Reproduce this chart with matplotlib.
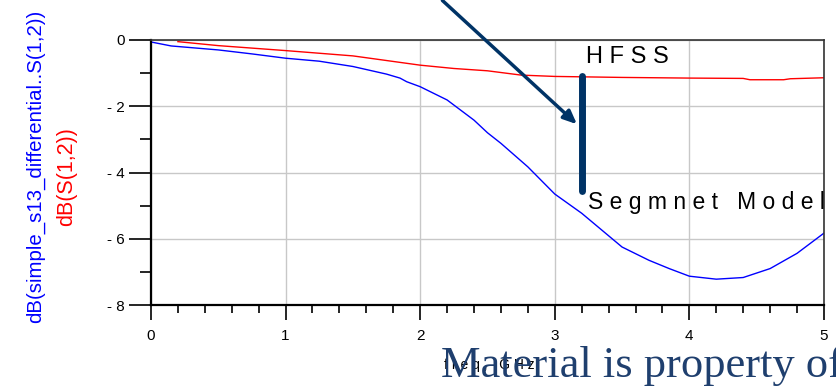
import matplotlib
matplotlib.use('Agg')
import matplotlib.pyplot as plt
from matplotlib.ticker import MultipleLocator

# Segment model (blue) and HFSS (red) insertion loss
freq_model = [0, 0.15, 0.5, 0.75, 1.0, 1.25, 1.5, 1.75, 1.85, 1.9, 2.0, 2.2, 2.4, 2.5,
              2.6, 2.8, 3.0, 3.2, 3.5, 3.7, 3.85, 4.0, 4.2, 4.4, 4.6, 4.8, 5.0]
db_model = [-0.06, -0.18, -0.3, -0.42, -0.55, -0.64, -0.8, -1.03, -1.15, -1.26, -1.41,
            -1.81, -2.42, -2.8, -3.12, -3.83, -4.65, -5.23, -6.25, -6.65, -6.9, -7.13,
            -7.22, -7.17, -6.9, -6.44, -5.83]

freq_hfss = [0.2, 0.5, 1.0, 1.5, 2.0, 2.25, 2.5, 2.75, 3.0, 3.5, 4.0, 4.4, 4.45,
             4.7, 4.75, 5.0]
db_hfss = [-0.05, -0.17, -0.32, -0.48, -0.76, -0.86, -0.93, -1.06, -1.1, -1.13, -1.15,
           -1.16, -1.2, -1.2, -1.17, -1.14]

x_ticks = [0, 1, 2, 3, 4, 5]
y_ticks = [0, -2, -4, -6, -8]
y_labels = ['0', '- 2', '- 4', '- 6', '- 8']

plt.rcParams['font.family'] = ['Liberation Sans', 'DejaVu Sans']

fig = plt.figure(figsize=(8.36, 3.89), dpi=100)
ax = fig.add_axes([0.1806, 0.2159, 0.8050, 0.6813])

ax.plot(freq_model, db_model, color='#0000ff', linewidth=1.0)
ax.plot(freq_hfss, db_hfss, color='#ff0000', linewidth=1.0)

ax.set_xlim(0, 5)
ax.set_ylim(-8, 0)
ax.set_xticks(x_ticks)
ax.set_yticks(y_ticks)
ax.set_yticklabels(y_labels)
ax.xaxis.set_minor_locator(MultipleLocator(0.2))
ax.yaxis.set_minor_locator(MultipleLocator(1))
ax.grid(True, which='major', color='#c8c8c8', linewidth=1.0)
ax.tick_params(axis='y', which='major', length=16, width=1.2, pad=3, labelsize=11)
ax.tick_params(axis='y', which='minor', length=8, width=1.2)
ax.tick_params(axis='x', which='major', length=11, width=1.2, pad=6, labelsize=11)
ax.tick_params(axis='x', which='minor', length=6, width=1.2)
for side in ['left', 'bottom']:
    ax.spines[side].set_linewidth(1.6)
for side in ['top', 'right']:
    ax.spines[side].set_linewidth(1.2)
    ax.spines[side].set_color('#333333')

# two-colour y label
fig.text(0.043, 0.573, 'dB(simple_s13_differential..S(1,2))', color='#0000ff',
         rotation=90, ha='center', va='center', fontsize=14.7)
fig.text(0.080, 0.547, 'dB(S(1,2))', color='#ff0000',
         rotation=90, ha='center', va='center', fontsize=15.5)
fig.text(0.585, 0.062, 'f r e q ,   G H z', ha='center', va='center', fontsize=10)

# annotations
navy = '#003366'
ax.plot([3.2, 3.2], [-1.1, -4.55], color=navy, linewidth=5, solid_capstyle='round',
        clip_on=False)
ax.annotate('', xy=(3.18, -2.6), xytext=(2.15, 1.25),
            arrowprops=dict(arrowstyle='-|>,head_length=0.8,head_width=0.35',
                            color=navy, linewidth=2.5),
            annotation_clip=False)
ax.text(3.23, -0.5, 'H F S S', fontsize=17, ha='left', va='center')
ax.text(3.25, -4.9, 'S e g m n e t   M o d e l', fontsize=16.5, ha='left', va='center',
        clip_on=False)

fig.text(0.527, 0.06, 'Material is property of', family=['Liberation Serif'],
         color='#1f3f6e', fontsize=32, ha='left', va='center')

plt.savefig('out.png', dpi=100)
